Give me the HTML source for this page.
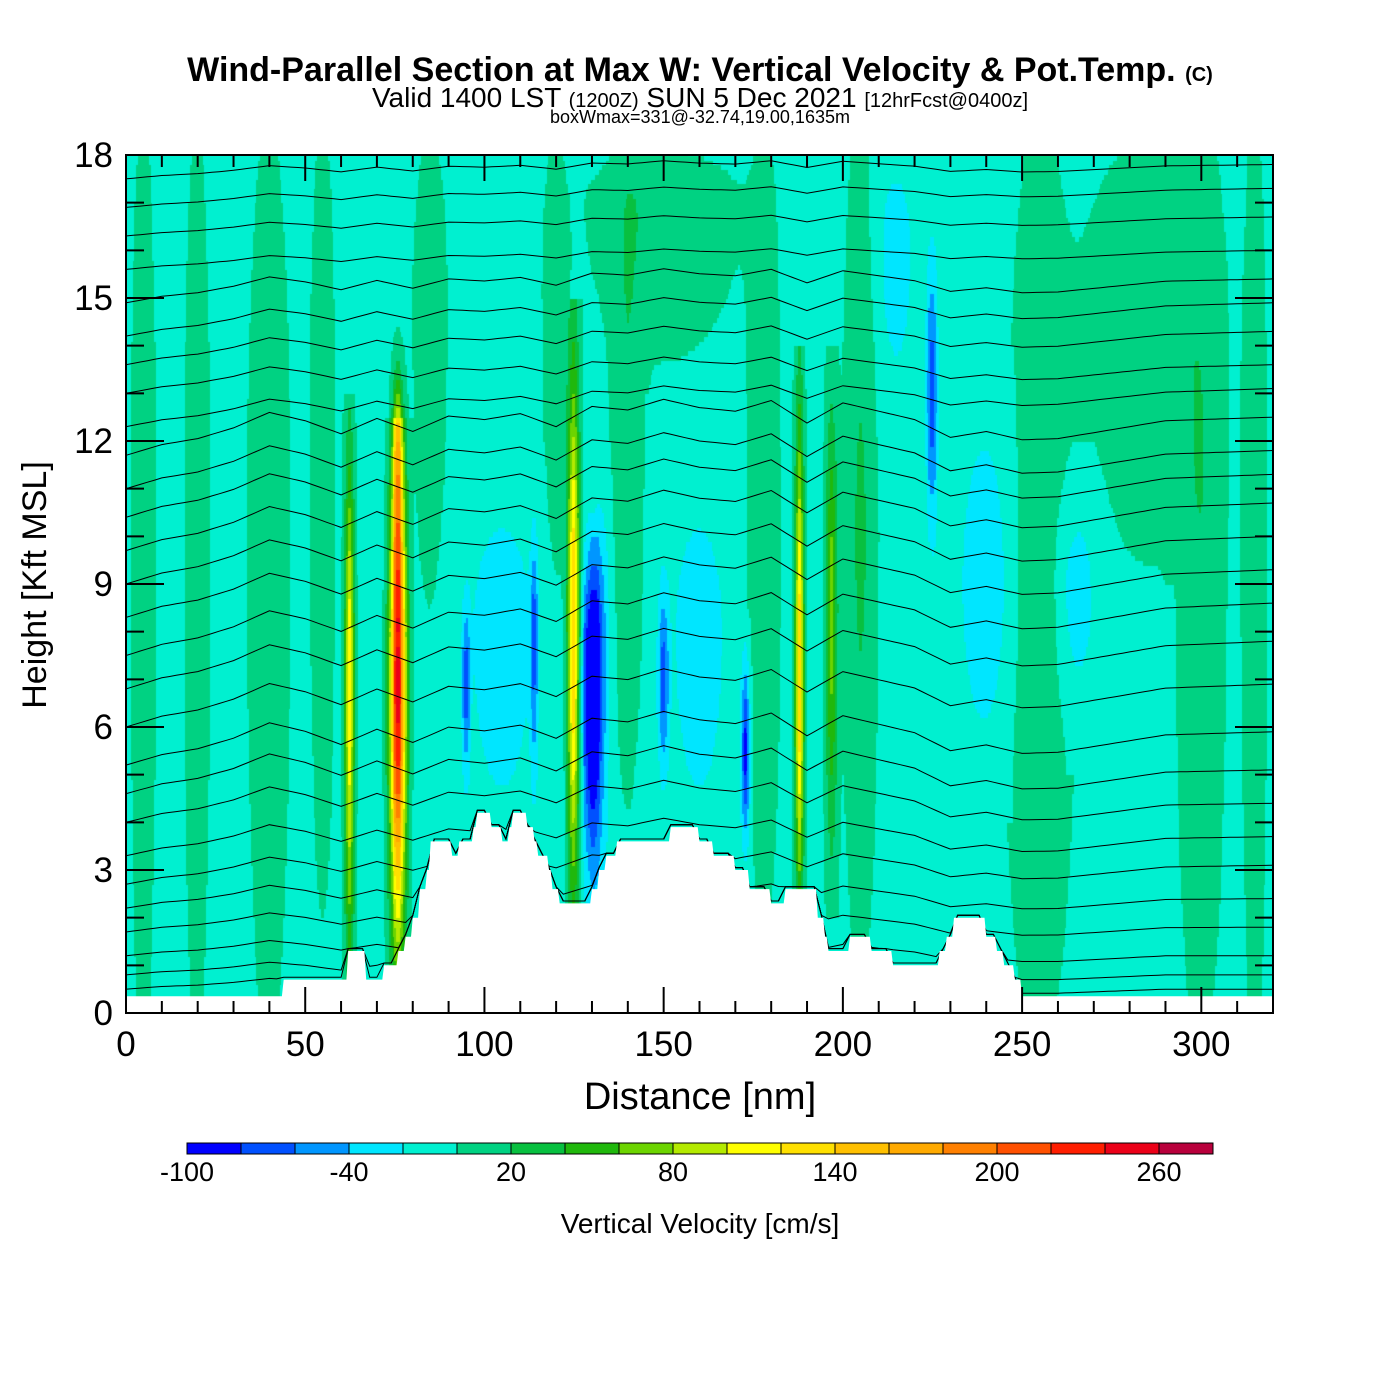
<!DOCTYPE html>
<html><head><meta charset="utf-8"><style>
body{margin:0;background:#fff;width:1400px;height:1400px;overflow:hidden;font-family:"Liberation Sans",sans-serif}
#wrap{position:relative;width:1400px;height:1400px}
canvas,svg{position:absolute;left:0;top:0}
</style></head><body><div id="wrap">
<canvas id="cv" width="1400" height="1400"></canvas>
<svg id="sv" width="1400" height="1400">
<text x="700" y="81" text-anchor="middle" font-size="34" font-weight="bold">Wind-Parallel Section at Max W: Vertical Velocity &amp; Pot.Temp. <tspan font-size="20">(C)</tspan></text>
<text x="700" y="107" text-anchor="middle" font-size="28">Valid 1400 LST <tspan font-size="20">(1200Z)</tspan> SUN 5 Dec 2021 <tspan font-size="20">[12hrFcst@0400z]</tspan></text>
<text x="700" y="123" text-anchor="middle" font-size="18">boxWmax=331@-32.74,19.00,1635m</text>
<text x="700" y="1109" text-anchor="middle" font-size="38">Distance [nm]</text>
<text transform="translate(46,585) rotate(-90)" text-anchor="middle" font-size="34">Height [Kft MSL]</text>
<text x="700" y="1233" text-anchor="middle" font-size="28">Vertical Velocity [cm/s]</text>
<g id="gC"></g><g id="gAx"></g><g id="gCb"></g>
</svg></div>
<script>
// ---- data ----
const xMin=0,xMax=320,hMin=0,hMax=18;
const xTicks=[0,50,100,150,200,250,300];
const yTicks=[0,3,6,9,12,15,18];
const cbLevels=[-100,-80,-60,-40,-20,0,20,40,60,80,100,120,140,160,180,200,220,240,260,280];
const cbLabels=[-100,-40,20,80,140,200,260];
const cbColors=["#0000ff","#0050ff","#0096ff","#00e6ff","#00f0d0","#00d282","#08c040","#20b80c","#6cd400","#b4ea00","#ffff00","#ffe000","#ffc000","#ffaa00","#ff8000","#ff5000","#ff1e00","#eb0018","#b8003c"];
// features: [center nm, half-width nm, amplitude cm/s, bottom kft, peak kft, top kft]
const featX=[62.5,76,76,125,188,197,130,173,150,95,114,225,105,160,215,240,265,132,5,20,40,55,85,120,140,178,205,255,285,300,315,150];
const featW=[1.3,2.2,1.6,1.6,1.2,1.6,2.6,1.2,1.5,1.0,1.0,1.6,10,8,5,8,6,3,3,3,5,3,4,3,4,4,4,8,15,6,3,18];
const featA=[125,255,110,150,145,75,-100,-85,-60,-60,-55,-65,-28,-28,-28,-28,-28,-40,22,22,22,22,22,22,22,22,28,22,22,22,22,22];
const featB=[0.5,1.2,9,2,2,3,3,3.5,5,5,5,10,3.5,3.5,13,5,6,2,0,0,0,3,9,9,5,2,2,0,10,0,0,14];
const featP=[7,7,12,8,7,8.5,7,5.5,7,7,8,13,8,8,16,9,9,8,10,10,10,12,15,15,12,10,10,7,15,10,10,17];
const featT=[12,11.5,13.5,14,13,13,9.5,7.5,9,8.5,10,16,11,11,18,13,11,11,18,18,18,18,18,18,18,18,18,18,18,18,18,18];
// terrain profile
const terX=[0,43,44,61,62,66,67,71,72,75,76,78,80,82,84,85,90,91,93,97,98,101,102,105,107,108,111,112,114,115,118,119,121,129,130,132,134,137,151,152,159,160,164,170,174,178,180,184,191,193,195,196,201,202,207,208,213,214,226,227,229,231,238,240,243,245,248,250,256,257,320];
const terH=[0.35,0.35,0.7,0.7,1.3,1.3,0.7,0.7,1.0,1.0,1.3,1.6,2.0,2.6,3.0,3.6,3.6,3.3,3.6,3.9,4.2,4.2,3.9,3.6,3.9,4.2,4.2,3.9,3.6,3.3,3.0,2.6,2.3,2.3,2.6,3.0,3.3,3.6,3.6,3.9,3.9,3.6,3.3,3.0,2.6,2.6,2.3,2.6,2.6,2.0,1.6,1.3,1.3,1.6,1.6,1.3,1.3,1.0,1.0,1.3,1.6,2.0,2.0,1.6,1.3,1.0,0.7,0.35,0.35,0.35,0.35];
// theta contour base heights (kft) at left and right edges
const thLeft=[17.5,16.9,16.3,15.6,14.9,14.2,13.6,13.0,12.3,11.7,11.0,10.4,9.7,9.0,8.3,7.5,6.8,6.0,5.2,4.6,4.0,3.3,2.7,2.2,1.7,1.2,0.8,0.5];
const thRight=[17.8,17.3,16.7,16.0,15.4,14.9,14.3,13.6,13.1,12.5,11.8,11.3,10.7,10.0,9.3,8.6,7.8,6.9,5.9,5.1,4.4,3.7,3.1,2.4,1.8,1.2,0.8,0.5];
// shared contour disturbance (kft) sampled every 10 nm
const thBumpX=[0,10,20,30,40,50,60,70,80,90,100,110,120,130,140,150,160,170,180,190,200,210,220,230,240,250,260,270,280,290,300,310,320];
const thBump=[0,0.2,0.3,0.5,0.8,0.6,0.3,0.6,0.3,0.6,0.5,0.6,0.3,0.7,0.6,0.8,0.6,0.5,0.7,0.2,0.6,0.4,0.2,-0.2,-0.1,-0.3,-0.3,-0.2,-0.1,0,0,0,0];

// ---- axes ----
const L=126,R=1273,T=155,B=1013;
const X=d=>L+(d-xMin)/(xMax-xMin)*(R-L);
const Y=h=>B-(h-hMin)/(hMax-hMin)*(B-T);
const NS="http://www.w3.org/2000/svg";
function mk(tag,attrs,parent){const e=document.createElementNS(NS,tag);for(const k in attrs)e.setAttribute(k,attrs[k]);parent.appendChild(e);return e;}
function interp(xs,ys,x){if(x<=xs[0])return ys[0];for(let i=1;i<xs.length;i++){if(x<=xs[i]){const t=(x-xs[i-1])/(xs[i]-xs[i-1]||1);return ys[i-1]+t*(ys[i]-ys[i-1]);}}return ys[ys.length-1];}
function terrainAt(x){let h=terH[0];for(let i=0;i<terX.length;i++){if(terX[i]<=x)h=terH[i];}return h;}
function val(x,h){let v=-5;for(let i=0;i<featX.length;i++){const dx=(x-featX[i])/featW[i];if(Math.abs(dx)>3)continue;if(h<featB[i]-1||h>featT[i]+1)continue;const span=h<featP[i]?(featP[i]-featB[i]):(featT[i]-featP[i]);const dz=(h-featP[i])/Math.max(span,0.3);v+=featA[i]*Math.exp(-dx*dx)*Math.exp(-1.2*dz*dz);}return v;}
function colorOf(v){let i=Math.floor((v-cbLevels[0])/20);i=Math.max(0,Math.min(cbColors.length-1,i));return cbColors[i];}

// heatmap
const ctx=document.getElementById('cv').getContext('2d');
ctx.save();ctx.beginPath();ctx.rect(L,T,R-L,B-T);ctx.clip();
const dx=0.5,dh=0.1;
for(let x=xMin;x<xMax;x+=dx){for(let h=hMin;h<hMax;h+=dh){ctx.fillStyle=colorOf(val(x+dx/2,h+dh/2));const x0=X(x),x1=X(x+dx),y0=Y(h+dh),y1=Y(h);ctx.fillRect(Math.floor(x0),Math.floor(y0),Math.ceil(x1-x0)+1,Math.ceil(y1-y0)+1);}}
ctx.restore();

// theta contours
const gC=document.getElementById('gC');
for(let k=0;k<thLeft.length;k++){let d="";const amp=Math.min(1,thLeft[k]/6+0.2)*(k>3?1:0.5)*(thLeft[k]>12?0.6:1);
 for(let x=0;x<=320;x+=2){let h=thLeft[k]+(thRight[k]-thLeft[k])*x/320+interp(thBumpX,thBump,x)*amp;
  const tr=terrainAt(x);if(h<tr+0.05)h=tr+0.05;d+=(d?"L":"M")+X(x).toFixed(1)+","+Y(Math.min(h,18)).toFixed(1);}
 const p=mk('path',{d:d,fill:'none',stroke:'#000','stroke-width':1},gC);
 
 }
// terrain mask
let td="M"+X(0)+","+Y(0);for(let x=0;x<=320;x+=0.5){td+="L"+X(x).toFixed(1)+","+Y(terrainAt(x)).toFixed(1);}td+="L"+X(320)+","+Y(0)+"Z";
const tp=mk('path',{d:td,fill:'#fff',stroke:'none'},gC);



// axes frame & ticks
const gAx=document.getElementById('gAx');
const fr=mk('rect',{x:L,y:T,width:R-L,height:B-T,fill:'none',stroke:'#000','stroke-width':2},gAx);


for(let d=10;d<320;d+=10){const major=d%50===0;const len=major?26:12;
 mk('line',{x1:X(d),x2:X(d),y1:B,y2:B-len,stroke:'#000','stroke-width':2},gAx);
 mk('line',{x1:X(d),x2:X(d),y1:T,y2:T+len,stroke:'#000','stroke-width':2},gAx);}
for(let h=1;h<18;h++){const major=h%3===0;const len=major?38:18;
 mk('line',{x1:L,x2:L+len,y1:Y(h),y2:Y(h),stroke:'#000','stroke-width':2},gAx);
 mk('line',{x1:R,x2:R-len,y1:Y(h),y2:Y(h),stroke:'#000','stroke-width':2},gAx);}
xTicks.forEach(t=>{const e=mk('text',{x:X(t),y:1056,'text-anchor':'middle','font-size':35},gAx);e.textContent=t;
 
 });
yTicks.forEach(t=>{const e=mk('text',{x:113,y:Y(t)+12,'text-anchor':'end','font-size':35},gAx);e.textContent=t;
 
 });

// colorbar
const gCb=document.getElementById('gCb');const cbL=187,cbW=54,cbT=1143,cbH=11;
cbColors.forEach((c,i)=>{const r=mk('rect',{x:cbL+i*cbW,y:cbT,width:cbW,height:cbH,fill:c,stroke:'#000','stroke-width':1},gCb);
 
 });
cbLabels.forEach(v=>{const e=mk('text',{x:cbL+(v-cbLevels[0])/20*cbW,y:1181,'text-anchor':'middle','font-size':27},gCb);e.textContent=v;
 
 });
</script></body></html>
